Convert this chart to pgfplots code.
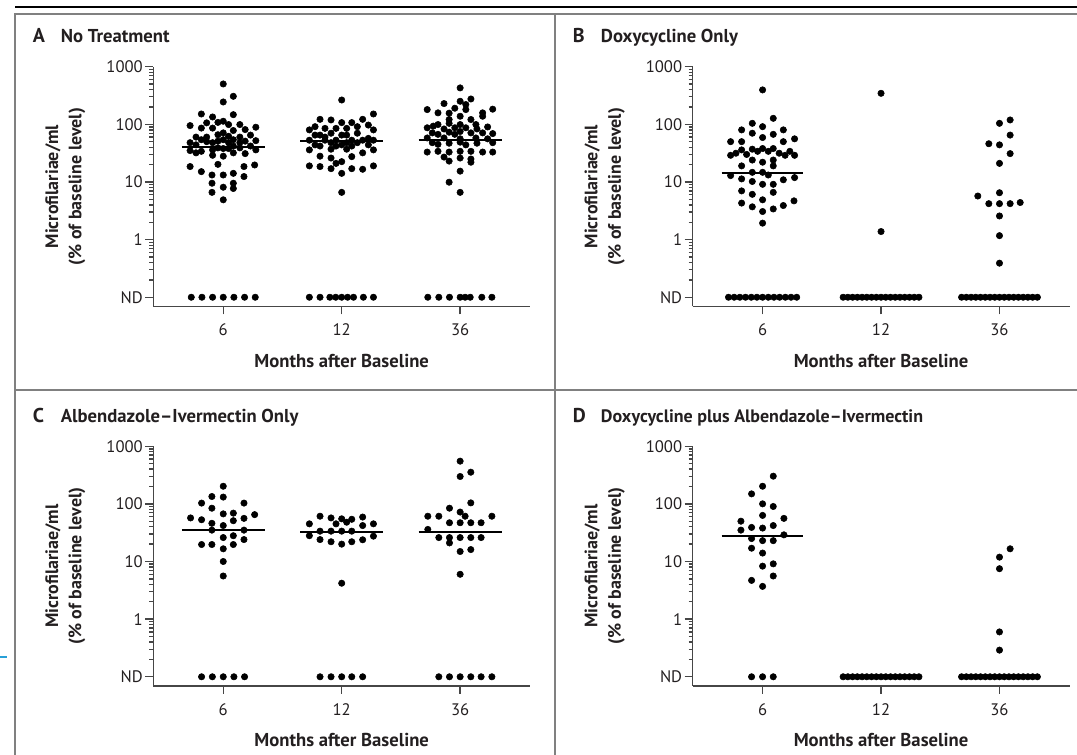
\documentclass[border=0pt]{standalone}
\usepackage{fontspec}
\setmainfont{PT Sans}
\usepackage{pgfplots}
\pgfplotsset{compat=1.18}
\definecolor{framegray}{RGB}{128,128,128}
\definecolor{ink}{RGB}{35,31,32}
\definecolor{axisgray}{RGB}{70,70,70}
\definecolor{bluemark}{RGB}{40,160,215}

\pgfplotsset{
  mypanel/.style={
    scale only axis, width=282.75pt, height=179.85pt,
    xmin=0.4085, xmax=3.5915,
    ymin=0.0692, ymax=1000,
    axis x line*=bottom, axis y line*=left,
    axis line style={line width=1pt, axisgray},
    xtick={1,2,3}, xticklabels={6,12,36},
    ytick={0.1,1,10,100,1000}, yticklabels={ND,1,10,100,1000},
    minor ytick={},
    tick align=outside, major tick length=6pt,
    tick style={line width=1pt, axisgray},
    ticklabel style={font=\fontsize{12.5}{14}\selectfont, text=ink},
    yticklabel style={inner xsep=0.6pt, xshift=-1pt},
    xticklabel style={inner ysep=2pt, yshift=-5pt},
    clip=false,
  },
}
\tikzset{
  mydots/.style={mark=*, mark size=2.4pt, black},
  mymed/.style={black, line width=1.4pt},
  ttl/.style={anchor=base west, inner sep=0pt, text=ink, font=\bfseries\fontsize{14}{16}\selectfont},
  lbl/.style={text=ink, font=\bfseries\fontsize{13.5}{16}\selectfont},
}
\newcommand{\panellabels}{%
  \node[lbl, font=\bfseries\fontsize{14}{16}\selectfont] at (axis description cs:0.5,-0.226) {Months after Baseline};
  \node[lbl, rotate=90] at (axis description cs:-0.266,0.5) {Microfilariae/ml};
  \node[lbl, rotate=90] at (axis description cs:-0.2022,0.5) {(\% of baseline level)};
}

\begin{document}
\begin{tikzpicture}
\useasboundingbox (0,0) rectangle (807.75pt,566.25pt);
% frame
\draw[black, line width=1.1pt] (11.25pt,561pt) -- (807.75pt,561pt);
\draw[framegray, line width=1.4pt] (11.25pt,0pt) -- (11.25pt,555.75pt) -- (807.75pt,555.75pt);
\draw[framegray, line width=1.4pt] (416.25pt,0pt) -- (416.25pt,555.75pt);
\draw[framegray, line width=1.4pt] (11.25pt,273.75pt) -- (807.75pt,273.75pt);
\draw[bluemark, line width=1pt] (0pt,73.5pt) -- (5pt,73.5pt);

% titles
\node[ttl, font=\bfseries\fontsize{15}{17}\selectfont] at (24.5pt,534.2pt) {A};
\node[ttl] at (45.5pt,534.2pt) {No Treatment};
\node[ttl, font=\bfseries\fontsize{15}{17}\selectfont] at (429.5pt,534.2pt) {B};
\node[ttl] at (450.5pt,534.2pt) {Doxycycline Only};
\node[ttl, font=\bfseries\fontsize{15}{17}\selectfont] at (24.5pt,249.2pt) {C};
\node[ttl] at (45.5pt,249.2pt) {Albendazole–Ivermectin Only};
\node[ttl, font=\bfseries\fontsize{15}{17}\selectfont] at (429.5pt,249.2pt) {D};
\node[ttl, font=\bfseries\fontsize{13.5}{16}\selectfont] at (450.5pt,249.2pt) {Doxycycline plus Albendazole–Ivermectin};

% ---------------- Panel A ----------------
\begin{semilogyaxis}[mypanel, at={(114.9pt,336.4pt)}, anchor=south west]
\addplot[only marks, mydots] coordinates {
(1.00,501) (1.085,306) (1.00,244)
(0.815,151) (0.91,134) (1.085,147)
(0.72,95) (0.815,86) (0.86,106) (0.91,86) (0.955,108) (1.00,113) (1.045,99) (1.085,78) (1.14,99) (1.185,81) (1.275,89)
(0.77,60) (0.815,54) (0.86,60) (0.955,66) (1.00,71) (1.045,62) (1.085,54) (1.14,60) (1.23,65)
(0.72,48) (0.77,44) (0.86,50) (0.91,48) (0.955,51) (1.00,54) (1.045,48) (1.14,48) (1.185,51) (1.275,52)
(0.72,35) (0.815,34) (0.91,36) (0.955,39) (1.00,38) (1.045,38) (1.085,42) (1.14,39) (1.23,42) (1.275,36)
(0.77,32) (0.91,29) (1.00,28) (1.085,32) (1.185,31)
(0.955,20.2) (0.72,18.5) (0.815,15.1) (0.905,13.2) (1.00,13.2) (1.085,14.1) (1.175,18.5) (1.265,19.7) (1.175,12.4)
(0.905,9.5) (1.00,8.1) (1.085,9.5) (1.085,7.7) (0.905,6.6) (1.00,4.9)
};
\addplot[only marks, mydots] coordinates {(0.73,0.1) (0.82,0.1) (0.91,0.1) (1.0,0.1) (1.09,0.1) (1.18,0.1) (1.27,0.1)};
\addplot[mymed] coordinates {(0.65,40) (1.35,40)};
\addplot[only marks, mydots] coordinates {
(2.0,264)
(2.268,151) (1.817,122) (1.91,119) (2.177,122)
(1.727,80) (1.775,91) (1.859,85) (1.952,85) (2.0,107) (2.042,85) (2.085,107) (2.132,91) (2.225,97) (2.268,80)
(1.727,53) (1.775,65) (1.817,65) (1.859,53) (1.91,70) (1.952,53) (2.0,65) (2.042,65) (2.085,53) (2.132,70) (2.177,53) (2.225,57) (2.268,53)
(1.775,44) (2.225,44) (2.042,48) (1.91,48) (1.859,60) (2.132,48)
(1.727,36) (1.817,42) (1.91,37) (1.952,42) (2.0,44) (2.042,37) (2.085,42) (2.177,32) (2.268,36)
(1.817,28) (1.91,26) (1.952,21) (2.085,27.5) (2.0,22.5)
(1.727,19) (1.817,18.5) (1.91,17) (2.0,14.1) (2.085,17) (2.177,16.6) (2.268,19)
(2.0,6.6)
};
\addplot[only marks, mydots] coordinates {(1.727,0.1) (1.817,0.1) (1.90,0.1) (1.95,0.1) (2.0,0.1) (2.05,0.1) (2.10,0.1) (2.183,0.1) (2.268,0.1)};
\addplot[mymed] coordinates {(1.65,51) (2.35,51)};
\addplot[only marks, mydots] coordinates {
(3.0,428)
(3.0,251) (3.091,275) (2.864,229) (3.048,220)
(2.722,180) (2.813,158) (2.907,156) (2.955,190) (3.048,180) (3.19,158) (3.275,183) (3.19,138)
(3.0,138) (3.091,121) (2.907,121)
(2.813,99) (2.907,104) (3.0,99) (3.133,99)
(2.722,87) (2.773,93) (2.864,83) (2.955,87) (3.048,87) (3.142,83) (3.232,90)
(2.765,71) (2.813,67) (2.907,73) (2.955,67) (3.0,75) (3.091,71) (3.19,71) (3.275,69)
(2.722,58) (2.864,58) (3.0,56) (3.133,58) (3.232,56)
(2.765,48) (2.813,45) (2.907,47) (3.0,49) (3.048,44) (3.142,47) (3.275,48)
(2.722,33) (2.813,34) (2.907,33) (3.0,34) (3.091,34) (3.19,33) (3.275,33)
(2.864,27) (2.907,23) (3.0,26) (3.091,25) (3.091,22)
(3.0,15.4) (2.907,9.9) (3.0,6.6)
};
\addplot[only marks, mydots] coordinates {(2.727,0.1) (2.82,0.1) (2.91,0.1) (3.0,0.1) (3.042,0.1) (3.085,0.1) (3.183,0.1) (3.268,0.1)};
\addplot[mymed] coordinates {(2.65,54) (3.35,54)};
\panellabels
\end{semilogyaxis}

% ---------------- Panel B ----------------
\begin{semilogyaxis}[mypanel, at={(519.4pt,336.4pt)}, anchor=south west]
\addplot[only marks, mydots] coordinates {
(1.0,395) (1.09,127) (0.913,104) (1.0,91)
(0.823,80) (0.913,70) (1.175,80) (1.09,67) (1.0,59)
(0.73,50) (0.823,50) (1.175,50) (1.27,56)
(0.73,29) (0.775,31.5) (0.823,36) (0.865,30) (0.913,37) (0.958,34) (1.0,38) (1.048,34) (1.09,38) (1.14,31.5) (1.19,29) (1.23,34) (1.27,29)
(0.823,19) (0.913,24) (1.0,22) (1.09,24) (1.09,19)
(0.73,12.9) (0.823,11.3) (0.913,14.7) (1.0,14.7) (1.048,13.2) (0.913,10.2) (1.0,9.1) (1.09,9.1) (1.175,10.9) (1.27,11.9)
(0.823,7.0) (0.913,6.1) (1.09,6.6) (1.0,4.9)
(0.823,4.3) (0.913,3.7) (1.0,3.07) (1.09,3.4) (1.175,3.9) (1.265,4.7)
(1.0,1.93)
};
\addplot[only marks, mydots] coordinates {(0.712,0.1) (0.76,0.1) (0.808,0.1) (0.856,0.1) (0.904,0.1) (0.952,0.1) (1.0,0.1) (1.048,0.1) (1.096,0.1) (1.144,0.1) (1.192,0.1) (1.24,0.1) (1.288,0.1)};
\addplot[mymed] coordinates {(0.655,14.2) (1.345,14.2)};
\addplot[only marks, mydots] coordinates {(2.0,345) (2.0,1.38)};
\addplot[mymed] coordinates {(1.66,0.1) (2.34,0.1)};
\addplot[only marks, mydots] coordinates {(1.68,0.1) (1.72,0.1) (1.76,0.1) (1.80,0.1) (1.84,0.1) (1.88,0.1) (1.92,0.1) (1.96,0.1) (2.0,0.1) (2.04,0.1) (2.08,0.1) (2.12,0.1) (2.16,0.1) (2.20,0.1) (2.24,0.1) (2.28,0.1) (2.32,0.1)};
\addplot[only marks, mydots] coordinates {
(3.0,104) (3.09,119) (3.09,65) (2.91,46) (3.0,44) (3.09,31) (3.0,21)
(3.0,6.5) (2.817,5.7) (2.91,4.2) (3.0,4.2) (3.09,4.2) (3.175,4.4)
(3.0,2.57) (3.0,1.17) (3.0,0.39)
};
\addplot[mymed] coordinates {(2.66,0.1) (3.34,0.1)};
\addplot[only marks, mydots] coordinates {(2.68,0.1) (2.72,0.1) (2.76,0.1) (2.80,0.1) (2.84,0.1) (2.88,0.1) (2.92,0.1) (2.96,0.1) (3.0,0.1) (3.04,0.1) (3.08,0.1) (3.12,0.1) (3.16,0.1) (3.20,0.1) (3.24,0.1) (3.28,0.1) (3.32,0.1)};
\panellabels
\end{semilogyaxis}

% ---------------- Panel C ----------------
\begin{semilogyaxis}[mypanel, at={(114.9pt,51.75pt)}, anchor=south west]
\addplot[only marks, mydots] coordinates {
(1.0,202) (0.904,134) (1.0,131) (0.817,103) (1.175,103) (0.904,84)
(0.724,57) (0.817,53) (1.0,67) (1.085,69) (1.085,51) (1.175,56) (1.265,65)
(0.904,46) (1.0,42) (0.904,35) (1.175,35)
(1.085,28) (1.0,26) (1.175,24)
(0.817,19.7) (0.904,19.7) (1.085,19.7) (1.0,16.6) (1.0,10) (1.0,5.6)
};
\addplot[only marks, mydots] coordinates {(0.817,0.1) (0.908,0.1) (1.0,0.1) (1.09,0.1) (1.18,0.1)};
\addplot[mymed] coordinates {(0.65,35.4) (1.35,35.4)};
\addplot[only marks, mydots] coordinates {
(1.817,61) (1.91,57) (2.0,55) (2.085,54) (2.177,59)
(1.727,45) (1.952,45) (2.042,48) (2.177,42) (2.268,45)
(1.817,33.6) (1.91,33.6) (2.0,33.6) (2.085,33.6) (1.727,28) (2.268,27.5)
(1.817,24) (1.91,22) (2.0,20) (2.085,22) (2.177,23.8)
(2.0,4.2)
};
\addplot[only marks, mydots] coordinates {(1.817,0.1) (1.91,0.1) (2.0,0.1) (2.085,0.1) (2.177,0.1)};
\addplot[mymed] coordinates {(1.65,33) (2.35,33)};
\addplot[only marks, mydots] coordinates {
(3.0,550) (3.0,298) (3.09,354) (3.09,104) (2.91,84)
(2.727,61) (2.82,61) (3.0,72) (3.042,61) (3.268,61)
(2.91,47) (3.0,47) (3.09,47) (3.177,47)
(2.727,36)
(2.82,26) (2.91,26) (3.0,26) (3.09,26) (3.177,26)
(2.91,21) (3.0,14.9) (3.09,16.1) (3.0,6.0)
};
\addplot[only marks, mydots] coordinates {(2.82,0.1) (2.91,0.1) (3.0,0.1) (3.09,0.1) (3.177,0.1) (3.268,0.1)};
\addplot[mymed] coordinates {(2.65,32) (3.35,32)};
\panellabels
\end{semilogyaxis}

% ---------------- Panel D ----------------
\begin{semilogyaxis}[mypanel, at={(519.4pt,51.75pt)}, anchor=south west]
\addplot[only marks, mydots] coordinates {
(1.09,302) (1.0,202) (0.907,149) (1.0,100) (1.09,90) (1.0,63) (1.18,56)
(0.817,50) (0.817,35) (0.907,39) (1.0,38) (1.09,42) (1.18,29)
(0.907,25) (1.0,23) (1.09,23)
(0.907,17) (1.0,14) (1.0,8.3) (1.09,9.1) (1.09,5.6) (0.907,4.7) (1.0,3.7)
};
\addplot[only marks, mydots] coordinates {(0.907,0.1) (1.0,0.1) (1.09,0.1)};
\addplot[mymed] coordinates {(0.655,27.5) (1.345,27.5)};
\addplot[mymed] coordinates {(1.66,0.1) (2.34,0.1)};
\addplot[only marks, mydots] coordinates {(1.68,0.1) (1.72,0.1) (1.76,0.1) (1.80,0.1) (1.84,0.1) (1.88,0.1) (1.92,0.1) (1.96,0.1) (2.0,0.1) (2.04,0.1) (2.08,0.1) (2.12,0.1) (2.16,0.1) (2.20,0.1) (2.24,0.1) (2.28,0.1) (2.32,0.1)};
\addplot[only marks, mydots] coordinates {(3.09,16.6) (3.0,11.9) (3.0,7.5) (3.0,0.6) (3.0,0.29)};
\addplot[mymed] coordinates {(2.66,0.1) (3.34,0.1)};
\addplot[only marks, mydots] coordinates {(2.68,0.1) (2.72,0.1) (2.76,0.1) (2.80,0.1) (2.84,0.1) (2.88,0.1) (2.92,0.1) (2.96,0.1) (3.0,0.1) (3.04,0.1) (3.08,0.1) (3.12,0.1) (3.16,0.1) (3.20,0.1) (3.24,0.1) (3.28,0.1) (3.32,0.1)};
\panellabels
\end{semilogyaxis}
\end{tikzpicture}
\end{document}
